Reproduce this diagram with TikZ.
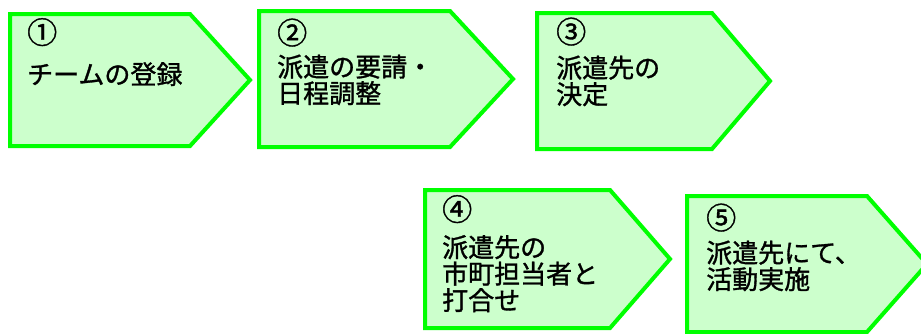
\documentclass[tikz,border=0pt]{standalone}
\usepackage{fontspec}
\usepackage{tikz}
\newfontfamily\jpfont[FakeBold=1.2]{Noto Sans CJK JP}
\newcommand{\stepnum}[1]{{\fontsize{30}{26.5}\selectfont #1}}
\definecolor{stepgreen}{RGB}{0,255,0}
\definecolor{steplight}{RGB}{204,255,204}
\tikzset{
  stepshape/.style={draw=stepgreen, fill=steplight, line width=4pt, line join=miter},
  steptext/.style={anchor=base west, align=left, inner sep=0pt,
    font=\jpfont\fontsize{26}{26.5}\selectfont}
}

\begin{document}
\begin{tikzpicture}[x=1pt, y=-1pt]
			\clip (0,0) rectangle (921,333);
			% pentagon arrows: left/top/shoulder/tip/bottom
			\foreach \l/\t/\s/\r/\b in {10/14/190/250/146, 259/11/450/513/147,
			537/13/712/770/149, 425/190/610/670/328, 687/196/867/927/332}
			\draw[stepshape] (\l,\t) -- (\s,\t) -- (\r,{(\t+\b)/2}) -- (\s,\b) -- (\l,\b) -- cycle;
			% texts, placed by the baseline of their last line
			\node[steptext] (step1) at (27,84) {\stepnum{①}\\[14pt]チームの登録};
			\node[steptext] (step2) at (277,103) {\stepnum{②}\\[6pt]派遣の要請・\\日程調整};
			\node[steptext] (step3) at (556,104) {\stepnum{③}\\[8pt]派遣先の\\決定};
			\node[steptext] (step4) at (442,310) {\stepnum{④}\\[10pt]派遣先の\\市町担当者と\\打合せ};
			\node[steptext] (step5) at (706,289) {\stepnum{⑤}\\[7pt]派遣先にて、\\活動実施};
		\end{tikzpicture}
\end{document}
